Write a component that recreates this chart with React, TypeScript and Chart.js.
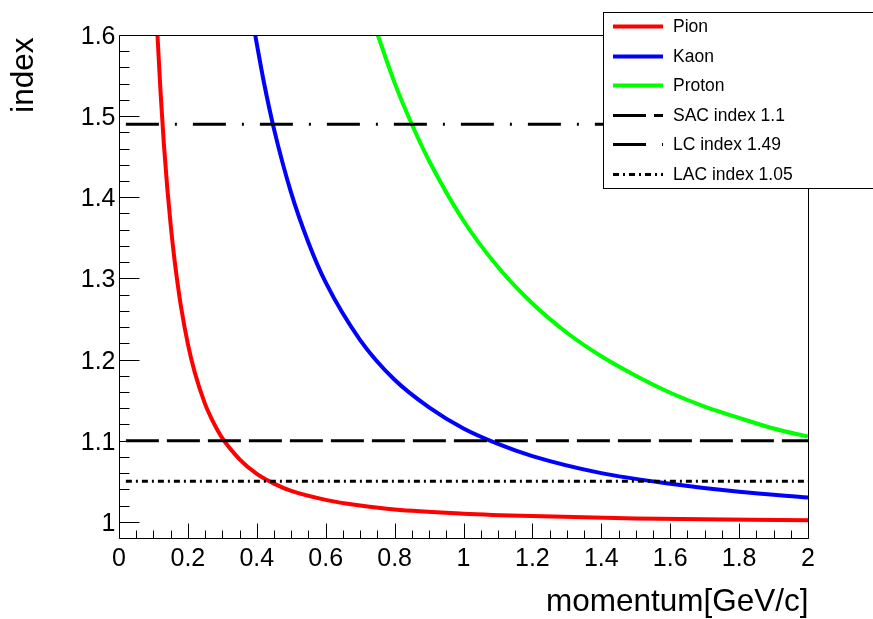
import React, { useEffect, useRef } from "react";
import { Chart, registerables } from "chart.js";
Chart.register(...registerables);

// Momentum values [GeV/c] and threshold index
const pionP = [0.1117, 0.12, 0.13, 0.14, 0.15, 0.16, 0.17, 0.18, 0.2, 0.22, 0.25, 0.27, 0.3, 0.35, 0.4, 0.45, 0.5, 0.6, 0.7, 0.8, 1.0, 1.2, 1.5, 2.0];
const pionN = [1.6, 1.534, 1.467, 1.412, 1.366, 1.327, 1.294, 1.265, 1.219, 1.184, 1.145, 1.126, 1.103, 1.077, 1.059, 1.047, 1.038, 1.027, 1.020, 1.015, 1.010, 1.007, 1.004, 1.002];

const kaonP = [0.3953, 0.42, 0.45, 0.5, 0.55, 0.6, 0.7, 0.8, 0.9, 1.0, 1.1, 1.2, 1.4, 1.6, 1.8, 2.0];
const kaonN = [1.6, 1.543, 1.484, 1.405, 1.344, 1.295, 1.224, 1.175, 1.141, 1.115, 1.096, 1.081, 1.060, 1.047, 1.037, 1.030];

const protonP = [0.7512, 0.8, 0.85, 0.9, 1.0, 1.1, 1.2, 1.3, 1.4, 1.5, 1.6, 1.7, 1.8, 1.9, 2.0];
const protonN = [1.6, 1.541, 1.490, 1.445, 1.371, 1.314, 1.269, 1.233, 1.204, 1.180, 1.159, 1.142, 1.128, 1.115, 1.105];

// Reference radiator indices
const refLabels = ["SAC index 1.1", "LC index 1.49", "LAC index 1.05"];
const refIndex = [1.1, 1.49, 1.05];
const refXRange = [0.02, 2];

const curveLabels = ["Pion", "Kaon", "Proton"];

const xTicks = [0, 0.2, 0.4, 0.6, 0.8, 1, 1.2, 1.4, 1.6, 1.8, 2];
const xTickLabels = ["0", "0.2", "0.4", "0.6", "0.8", "1", "1.2", "1.4", "1.6", "1.8", "2"];
const yTicks = [1, 1.1, 1.2, 1.3, 1.4, 1.5, 1.6];
const yTickLabels = ["1", "1.1", "1.2", "1.3", "1.4", "1.5", "1.6"];

const xTitle = "momentum[GeV/c]";
const yTitle = "index";

const FONT = '"Liberation Sans", Arial, Helvetica, sans-serif';

const zip = (xs: number[], ys: number[]) => xs.map((x, i) => ({ x, y: ys[i] }));

export default function App() {
  const ref = useRef<HTMLCanvasElement>(null);

  useEffect(() => {
    if (!ref.current) return;

    const framePlugin = {
      id: "rootFrame",
      afterDatasetsDraw(chart: any) {
        const { ctx, chartArea: a, scales } = chart;
        const xs = scales.x;
        const ys = scales.y;
        const L = Math.round(a.left) + 0.5;
        const R = Math.round(a.right) + 0.5;
        const T = Math.round(a.top) + 0.5;
        const B = Math.round(a.bottom) + 0.5;
        ctx.save();
        ctx.strokeStyle = "#000";
        ctx.lineWidth = 1;
        ctx.beginPath();
        ctx.moveTo(L, T);
        ctx.lineTo(R, T);
        ctx.lineTo(R, B);
        ctx.lineTo(L, B);
        ctx.closePath();
        ctx.stroke();

        // x ticks (inside frame)
        ctx.beginPath();
        for (let i = 0; i <= 40; i++) {
          const v = i * 0.05;
          const px = Math.round(xs.getPixelForValue(v)) + 0.5;
          const len = i % 4 === 0 ? 15 : 8;
          ctx.moveTo(px, B);
          ctx.lineTo(px, B - len);
        }
        // y ticks
        for (let i = 49; i <= 80; i++) {
          const v = i * 0.02;
          if (v < ys.min + 1e-9) continue;
          const py = Math.round(ys.getPixelForValue(v)) + 0.5;
          const len = i % 5 === 0 ? 20 : 10;
          ctx.moveTo(L, py);
          ctx.lineTo(L + len, py);
        }
        ctx.stroke();

        // tick labels
        ctx.fillStyle = "#000";
        ctx.font = `25px ${FONT}`;
        ctx.textAlign = "center";
        ctx.textBaseline = "alphabetic";
        xTicks.forEach((v, i) => {
          ctx.fillText(xTickLabels[i], xs.getPixelForValue(v), 566);
        });
        ctx.textAlign = "right";
        yTicks.forEach((v, i) => {
          ctx.fillText(yTickLabels[i], L - 4, ys.getPixelForValue(v) + 9);
        });

        // axis titles
        ctx.font = `31.5px ${FONT}`;
        ctx.textAlign = "right";
        ctx.fillText(xTitle, R, 611);
        ctx.save();
        ctx.translate(33, T + 2);
        ctx.rotate(-Math.PI / 2);
        ctx.textAlign = "right";
        ctx.fillText(yTitle, 0, 0);
        ctx.restore();
        ctx.restore();
      },
      afterDraw(chart: any) {
        const { ctx } = chart;
        const bx = 603.5, by = 12.5, bw = 272, bh = 176;
        ctx.save();
        ctx.fillStyle = "#fff";
        ctx.fillRect(bx, by, bw, bh);
        ctx.strokeStyle = "#000";
        ctx.lineWidth = 1;
        ctx.strokeRect(bx, by, bw, bh);
        const order = [3, 4, 5, 0, 1, 2];
        ctx.font = `17.5px ${FONT}`;
        ctx.textAlign = "left";
        ctx.textBaseline = "middle";
        order.forEach((di, row) => {
          const ds = chart.data.datasets[di];
          const cy = Math.round(26 + row * 29.6) + 0.5;
          ctx.save();
          ctx.strokeStyle = ds.borderColor;
          ctx.lineWidth = ds.borderWidth;
          ctx.setLineDash(ds.borderDash || []);
          ctx.beginPath();
          ctx.moveTo(613, cy);
          ctx.lineTo(663, cy);
          ctx.stroke();
          ctx.restore();
          ctx.fillStyle = "#000";
          ctx.fillText(ds.label, 673, cy + 1);
        });
        ctx.restore();
      },
    };

    const curveColors = ["#ff0000", "#0000ff", "#00ff00"];
    const curveData = [zip(pionP, pionN), zip(kaonP, kaonN), zip(protonP, protonN)];
    const refDash = [[33, 8], [33, 16, 2, 16], [6, 4, 2, 4]];

    const datasets: any[] = [];
    refLabels.forEach((lab, i) => {
      datasets.push({
        label: lab,
        data: refXRange.map((x) => ({ x, y: refIndex[i] })),
        borderColor: "#000",
        borderWidth: 3,
        borderDash: refDash[i],
        pointRadius: 0,
        tension: 0,
        order: 0,
        clip: 0,
      });
    });
    curveLabels.forEach((lab, i) => {
      datasets.push({
        label: lab,
        data: curveData[i],
        borderColor: curveColors[i],
        borderWidth: 4,
        pointRadius: 0,
        cubicInterpolationMode: "monotone",
        order: 1,
        clip: 0,
      });
    });

    const chart = new Chart(ref.current, {
      type: "line",
      data: { datasets },
      options: {
        animation: false,
        responsive: false,
        devicePixelRatio: 1,
        layout: { padding: { left: 119, right: 65, top: 35, bottom: 81 } },
        plugins: { legend: { display: false }, tooltip: { enabled: false } },
        events: [],
        scales: {
          x: { type: "linear", min: 0, max: 2, display: false },
          y: { type: "linear", min: 0.98, max: 1.6, display: false },
        },
      },
      plugins: [framePlugin],
    });
    return () => chart.destroy();
  }, []);

  return (
    <div style={{ position: "absolute", left: 0, top: 0, width: 873, height: 619, background: "#fff" }}>
      <canvas ref={ref} width={873} height={619} style={{ display: "block" }} />
    </div>
  );
}
